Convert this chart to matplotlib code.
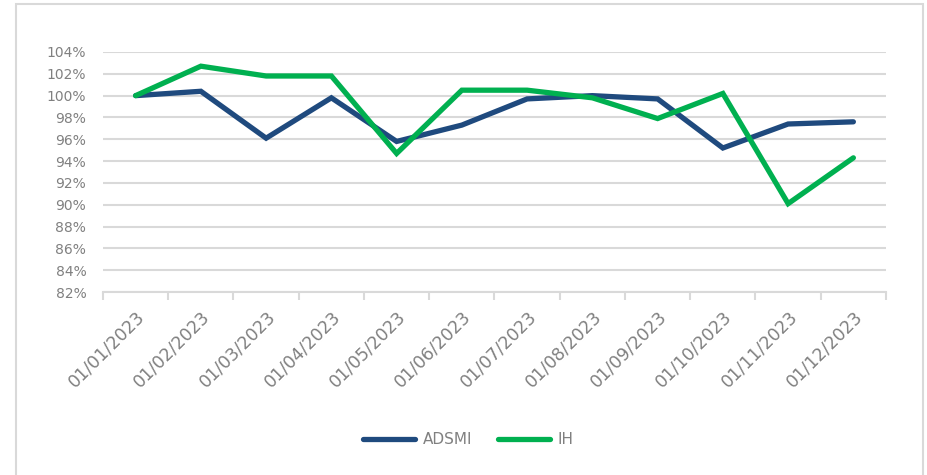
import matplotlib
matplotlib.use("Agg")
import matplotlib.pyplot as plt
from matplotlib.patches import Rectangle
from matplotlib.ticker import FuncFormatter, FixedLocator

dates = ["01/01/2023", "01/02/2023", "01/03/2023", "01/04/2023", "01/05/2023", "01/06/2023",
         "01/07/2023", "01/08/2023", "01/09/2023", "01/10/2023", "01/11/2023", "01/12/2023"]
adsmi = [100.0, 100.4, 96.1, 99.8, 95.8, 97.3, 99.7, 100.0, 99.7, 95.2, 97.4, 97.6]
ih = [100.0, 102.7, 101.8, 101.8, 94.7, 100.5, 100.5, 99.8, 97.9, 100.2, 90.1, 94.3]

GRID = "#d9d9d9"
TEXT = "#808080"
BLUE = "#1f4a7e"
GREEN = "#00b050"

plt.rcParams["font.family"] = ["DejaVu Sans"]

fig = plt.figure(figsize=(9.28, 4.75), dpi=100)
# light frame round the chart area
fig.patches.append(Rectangle((16 / 928, -0.1), (923 - 16) / 928, 1.1 - 4 / 475,
                             transform=fig.transFigure, fill=False,
                             edgecolor=GRID, linewidth=1.5))

ax = fig.add_axes([103 / 928, 1 - 292 / 475, (886 - 103) / 928, (292 - 52) / 475])
x = list(range(len(dates)))
ax.plot(x, adsmi, color=BLUE, lw=3.8, solid_capstyle="round", solid_joinstyle="miter", label="ADSMI", zorder=3)
ax.plot(x, ih, color=GREEN, lw=3.8, solid_capstyle="round", solid_joinstyle="miter", label="IH", zorder=3)

ax.set_xlim(-0.5, len(dates) - 0.5)
ax.set_ylim(82, 104)
ax.set_yticks(range(82, 105, 2))
ax.yaxis.set_major_formatter(FuncFormatter(lambda v, _: f"{v:.0f}%"))
ax.grid(axis="y", color=GRID, lw=1.5)
ax.set_axisbelow(True)

ax.set_xticks(x)
ax.set_xticklabels(dates, rotation=45, ha="right", rotation_mode="anchor",
                   fontsize=12.5, color=TEXT)
ax.tick_params(axis="x", which="major", length=0, pad=11)
ax.xaxis.set_minor_locator(FixedLocator([i - 0.5 for i in range(len(dates) + 1)]))
ax.tick_params(axis="x", which="minor", length=6, color=GRID, width=1.5)
ax.tick_params(axis="y", length=0, labelsize=10, labelcolor=TEXT, pad=12)

for s in ["top", "right", "left"]:
    ax.spines[s].set_visible(False)
ax.spines["bottom"].set_color(GRID)
ax.spines["bottom"].set_linewidth(1.5)

fig.legend(loc="center", bbox_to_anchor=(0.505, 1 - 440 / 475), ncol=2, frameon=False,
           fontsize=11, labelcolor=TEXT, handlelength=3.4, columnspacing=1.7, handletextpad=0.5)

fig.savefig("out.png", dpi=100, facecolor="white")
